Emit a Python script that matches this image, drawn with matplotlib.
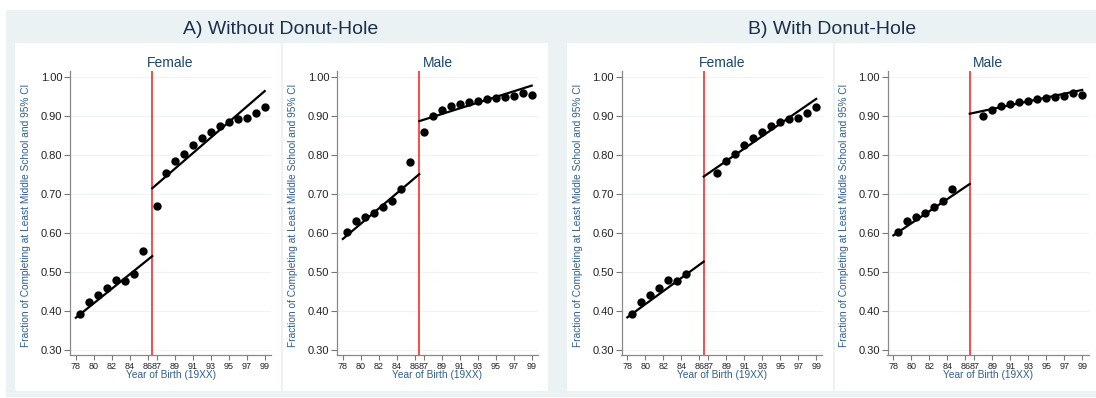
import matplotlib
matplotlib.use('Agg')
import matplotlib.pyplot as plt
from matplotlib.patches import Rectangle

plt.rcParams['font.family'] = ['Liberation Sans', 'DejaVu Sans']

# birth cohorts (x in years, cutoff between 86 and 87)
cutoff = 86.5
left_years = [78.5, 79.5, 80.5, 81.5, 82.5, 83.5, 84.5, 85.5]
right_years = [87, 88, 89, 90, 91, 92, 93, 94, 95, 96, 97, 98, 99]

female_left = [0.391, 0.423, 0.440, 0.457, 0.479, 0.477, 0.494, 0.554]
female_right = [0.669, 0.752, 0.785, 0.801, 0.826, 0.844, 0.857, 0.873,
                0.885, 0.891, 0.894, 0.907, 0.923]
male_left = [0.601, 0.631, 0.640, 0.651, 0.665, 0.682, 0.711, 0.780]
male_right = [0.859, 0.900, 0.915, 0.926, 0.931, 0.935, 0.937, 0.944,
              0.946, 0.949, 0.950, 0.958, 0.952]

# fitted line endpoints
fit_left_x = [78.0, 86.5]
fit_right_x = [86.5, 99.0]
fits = {
    ('A', 'Female'): ([0.382, 0.540], [0.714, 0.963]),
    ('A', 'Male'): ([0.584, 0.750], [0.886, 0.977]),
    ('B', 'Female'): ([0.383, 0.526], [0.744, 0.943]),
    ('B', 'Male'): ([0.593, 0.725], [0.905, 0.966]),
}

tick_years = [78, 80, 82, 84, 86, 87, 89, 91, 93, 95, 97, 99]
ytick_vals = [0.30, 0.40, 0.50, 0.60, 0.70, 0.80, 0.90, 1.00]

panel_titles = {'A': 'A) Without Donut-Hole', 'B': 'B) With Donut-Hole'}

W, H = 1096, 398
bg = '#eaf2f3'
navy = '#1a476f'

fig = plt.figure(figsize=(W / 100, H / 100), dpi=100)
fig.patch.set_facecolor('white')


def px_rect(x0, y0, x1, y1, color):
    fig.patches.append(Rectangle((x0 / W, 1 - y1 / H), (x1 - x0) / W, (y1 - y0) / H,
                                 transform=fig.transFigure, facecolor=color,
                                 edgecolor='none', zorder=-10))


# graph region background and white boxes
px_rect(6, 10, 1096, 397, bg)
boxes = [(15, 281), (283, 548), (567, 833), (835, 1096)]
for bx0, bx1 in boxes:
    px_rect(bx0, 43, bx1, 391, 'white')

fig.text(281 / W, 1 - 29 / H, panel_titles['A'], ha='center', va='center',
         fontsize=14, color='#1c2f4f')
fig.text(832 / W, 1 - 29 / H, panel_titles['B'], ha='center', va='center',
         fontsize=14, color='#1c2f4f')

axes_left = [70, 337, 621.5, 887.5]
ax_w = 201
ax_top, ax_bot = 71, 355
layout = [('A', 'Female'), ('A', 'Male'), ('B', 'Female'), ('B', 'Male')]

for (panel, sex), axl in zip(layout, axes_left):
    ax = fig.add_axes([axl / W, 1 - ax_bot / H, ax_w / W, (ax_bot - ax_top) / H])
    ax.set_zorder(1)
    ax.set_facecolor('white')
    if sex == 'Female':
        yl, yr = list(female_left), list(female_right)
    else:
        yl, yr = list(male_left), list(male_right)
    xl, xr = list(left_years), list(right_years)
    if panel == 'B':
        # donut hole: drop the cohorts next to the cutoff
        xl, yl = xl[:-1], yl[:-1]
        xr, yr = xr[1:], yr[1:]

    for yv in ytick_vals:
        ax.axhline(yv, color='#eef3f4', lw=0.8, zorder=0)
    ax.axvline(cutoff, color='#ff2a2a', lw=1.2, zorder=1)
    fl, fr = fits[(panel, sex)]
    ax.plot(fit_left_x, fl, color='black', lw=1.6, zorder=2)
    ax.plot(fit_right_x, fr, color='black', lw=1.6, zorder=2)
    ax.plot(xl, yl, 'o', color='black', ms=5, zorder=3)
    ax.plot(xr, yr, 'o', color='black', ms=5, zorder=3)

    ax.set_xlim(77.35, 99.7)
    ax.set_ylim(0.2865, 1.0145)
    ax.set_yticks(ytick_vals)
    ax.set_yticklabels([f'{v:.2f}' for v in ytick_vals], fontsize=8, color='#222222')
    ax.set_xticks(tick_years)
    ax.set_xticklabels([str(t) for t in tick_years], fontsize=6.5, color='#222222')
    ax.tick_params(axis='y', length=4, width=0.8, color='#777777', pad=1.5)
    ax.tick_params(axis='x', length=3.5, width=0.8, color='#777777', pad=1.5)
    for s in ['top', 'right']:
        ax.spines[s].set_visible(False)
    for s in ['left', 'bottom']:
        ax.spines[s].set_color('#888888')
        ax.spines[s].set_linewidth(0.9)

    ax.set_title(sex, fontsize=10, color=navy, pad=3)
    ax.set_ylabel('Fraction of Completing at Least Middle School and 95% CI',
                  fontsize=7.3, color='#2f5f8f')
    ax.yaxis.set_label_coords(-0.193, 0.49)
    ax.set_xlabel('Year of Birth (19XX)', fontsize=7.3, color='#2f5f8f', labelpad=-1)

fig.savefig('out.png', dpi=100, facecolor='white')
